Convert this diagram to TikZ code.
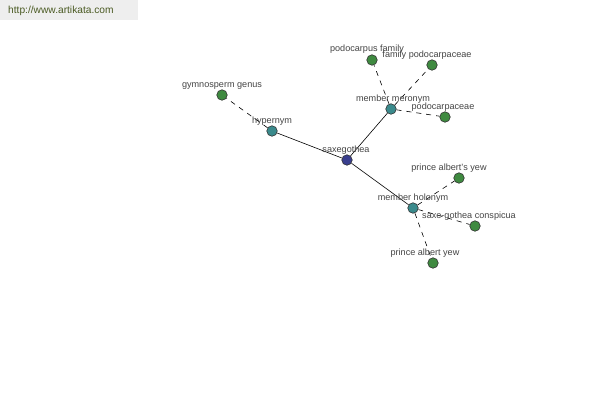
\documentclass[tikz,border=0pt]{standalone}
\usepackage{fontspec}
\setmainfont{Liberation Sans}
\definecolor{hdrbg}{HTML}{EEEEEE}
\definecolor{hdrtxt}{HTML}{4A5A22}
\definecolor{lbl}{HTML}{444444}
\definecolor{cgreen}{HTML}{3F8A40}
\definecolor{cteal}{HTML}{3A8A8C}
\definecolor{cblue}{HTML}{3A3F8F}
\begin{document}
\begin{tikzpicture}[x=1pt,y=-1pt,
  vtx/.style={circle,draw=black!80,line width=0.6pt,minimum size=10.5pt,inner sep=0pt},
  leaf/.style={vtx,fill=cgreen},
  rel/.style={vtx,fill=cteal},
  root/.style={vtx,fill=cblue},
  lab/.style={font=\fontsize{9.1}{10}\selectfont,text=lbl,inner sep=0pt,anchor=base},
  solidedge/.style={draw=black,line width=0.6pt},
  dashedge/.style={draw=black,line width=0.6pt,dash pattern=on 5pt off 5pt}]
\useasboundingbox (0,0) rectangle (600,400);
\fill[hdrbg] (0,0) rectangle (138,20);
\node[font=\fontsize{10.2}{11}\selectfont,text=hdrtxt,anchor=west,inner sep=0pt] (hdr) at (8,11) {http://www.artikata.com};
% nodes
\node[root] (sax) at (347,160) {};
\node[rel] (hyp) at (272,131) {};
\node[leaf] (gym) at (222,95) {};
\node[rel] (mer) at (391,109) {};
\node[leaf] (pfam) at (372,60) {};
\node[leaf] (fpod) at (432,65) {};
\node[leaf] (pod) at (445,117) {};
\node[rel] (hol) at (413,208) {};
\node[leaf] (pays) at (459,178) {};
\node[leaf] (sgc) at (475,226) {};
\node[leaf] (pay) at (433,263) {};
% edges
\draw[solidedge] (sax) -- (hyp);
\draw[solidedge] (sax) -- (mer);
\draw[solidedge] (sax) -- (hol);
\draw[dashedge] (hyp) -- (gym);
\draw[dashedge] (mer) -- (pfam);
\draw[dashedge] (mer) -- (fpod);
\draw[dashedge] (mer) -- (pod);
\draw[dashedge] (hol) -- (pays);
\draw[dashedge] (hol) -- (sgc);
\draw[dashedge] (hol) -- (pay);
% labels
\node[lab] (lgym) at (222,87) {gymnosperm genus};
\node[lab] (lhyp) at (272,123) {hypernym};
\node[lab] (lsax) at (346,152) {saxegothea};
\node[lab] (lmer) at (393,101) {member meronym};
\node[lab] (lpfam) at (367,51) {podocarpus family};
\node[lab] (lfpod) at (427,57) {family podocarpaceae};
\node[lab] (lpod) at (443,109) {podocarpaceae};
\node[lab] (lpays) at (449,170) {prince albert's yew};
\node[lab] (lhol) at (413,200) {member holonym};
\node[lab] (lsgc) at (469,218) {saxe-gothea conspicua};
\node[lab] (lpay) at (425,255) {prince albert yew};
\end{tikzpicture}
\end{document}
